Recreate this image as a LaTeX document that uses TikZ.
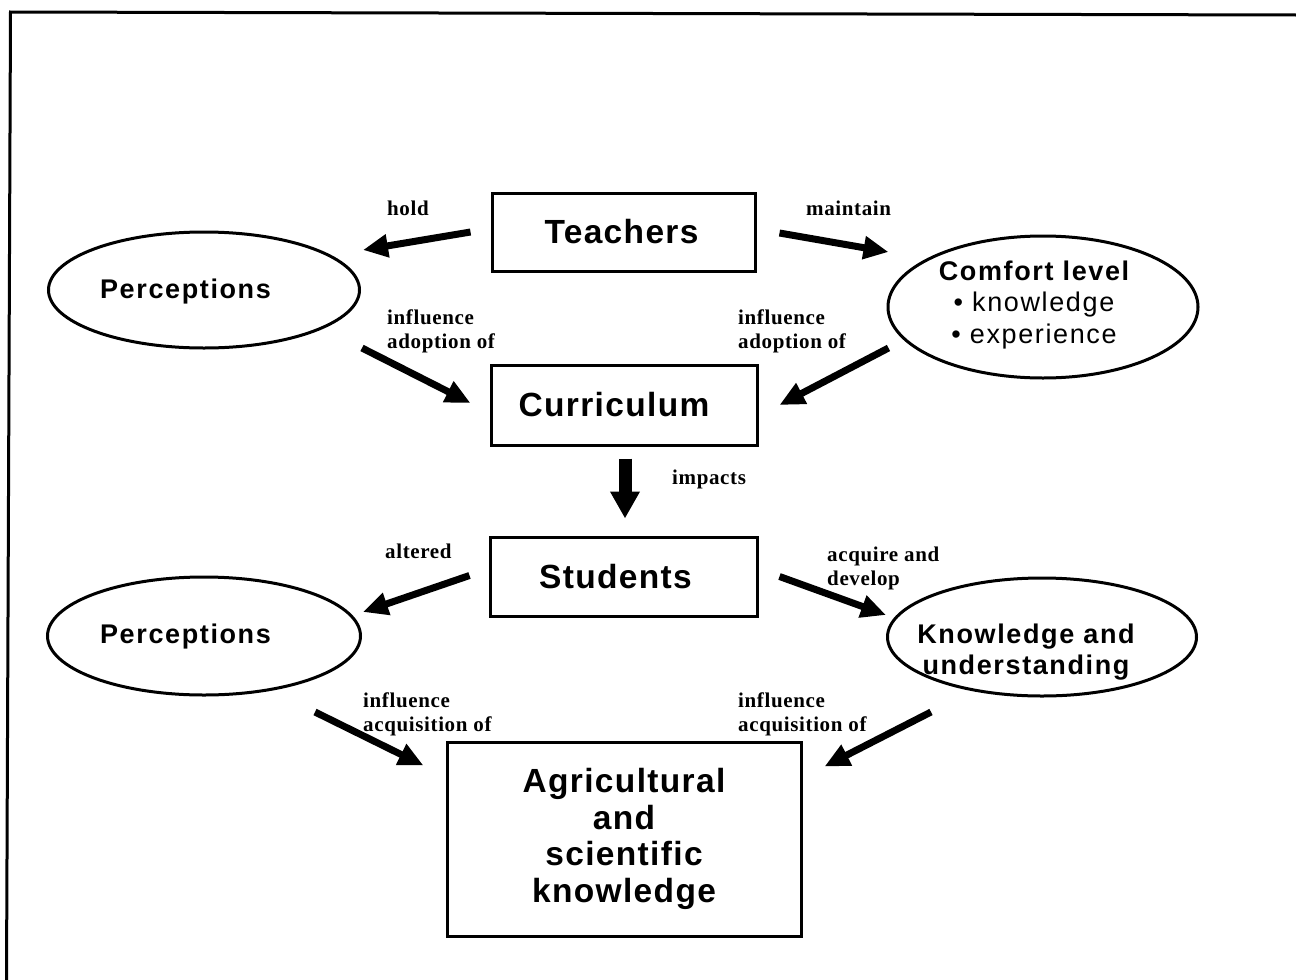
\documentclass[tikz,border=0pt]{standalone}
\usepackage{fontspec}
\usetikzlibrary{arrows.meta,shapes.geometric}
\newfontfamily\boxfont[LetterSpace=4]{Liberation Sans}
\newfontfamily\ellfont[LetterSpace=6]{Liberation Sans}
\newfontfamily\lblfont[LetterSpace=3]{Liberation Serif}
\tikzset{
  box/.style={draw, line width=3pt, inner sep=0pt, align=center,
    font=\boxfont\bfseries\fontsize{33.5}{36.5}\selectfont},
  ell/.style={draw, ellipse, line width=3pt, inner sep=0pt},
  elltext/.style={inner sep=0pt, anchor=base,
    font=\ellfont\fontsize{27}{31.5}\selectfont},
  lbl/.style={inner sep=0pt, anchor=base west,
    font=\lblfont\bfseries\fontsize{21}{24.5}\selectfont},
  big/.style={line width=7pt, -{Triangle[length=25pt,width=22pt]}},
  huge/.style={line width=13pt, -{Triangle[length=27pt,width=28pt]}},
  frame/.style={line width=3pt, line cap=rect}
}
\begin{document}
\begin{tikzpicture}[x=1pt,y=-1pt]
\useasboundingbox (0,0) rectangle (1296,980);
\draw[frame] (6.5,980) -- (10.5,12) -- (1296,15);

% boxes
\node[box, minimum width=263pt, minimum height=78pt] (teachers) at (623.5,232) {Teachers\hspace{4pt}};
\node[box, minimum width=266pt, minimum height=80pt] (curriculum) at (624,405) {Curriculum\hspace{20pt}};
\node[box, minimum width=267pt, minimum height=79pt] (students) at (623.5,576.5) {Students\hspace{16pt}};
\node[box, minimum width=354pt, minimum height=194pt] (agri) at (624,839) {Agricultural\\and\\scientific\\knowledge};

% ellipses
\node[ell, minimum width=311pt, minimum height=116pt] (perc1) at (204,290) {};
\node[ell, minimum width=310pt, minimum height=142pt] (comfort) at (1043,307) {};
\node[ell, minimum width=313pt, minimum height=118pt] (perc2) at (204,636) {};
\node[ell, minimum width=309pt, minimum height=118pt] (know) at (1042,637) {};

\node[elltext] (perc1t) at (185.5,298) {\bfseries Perceptions};
\node[elltext] (comfortt) at (1034,280) {\begin{tabular}[t]{@{}c@{}}\bfseries Comfort level\\ \textbullet{} knowledge\\ \textbullet{} experience\end{tabular}};
\node[elltext] (perc2t) at (185.5,643) {\bfseries Perceptions};
\node[elltext] (knowt) at (1026,643) {\bfseries\begin{tabular}[t]{@{}c@{}}Knowledge and\\understanding\end{tabular}};

% labels
\node[lbl] (l1) at (387,215) {hold};
\node[lbl] (l2) at (806,215) {maintain};
\node[lbl] (l3) at (387,324) {\begin{tabular}[t]{@{}l@{}}influence\\adoption of\end{tabular}};
\node[lbl] (l4) at (738,324) {\begin{tabular}[t]{@{}l@{}}influence\\adoption of\end{tabular}};
\node[lbl] (l5) at (672,484) {impacts};
\node[lbl] (l6) at (385,558) {altered};
\node[lbl] (l7) at (827,561) {\begin{tabular}[t]{@{}l@{}}acquire and\\develop\end{tabular}};
\node[lbl] (l8) at (363,707) {\begin{tabular}[t]{@{}l@{}}influence\\acquisition of\end{tabular}};
\node[lbl] (l9) at (738,707) {\begin{tabular}[t]{@{}l@{}}influence\\acquisition of\end{tabular}};

% arrows
\draw[big] ([shift={(-20,0)}]teachers.west) -- ([shift={(2,-40)}]perc1.east);
\draw[big] ([shift={(23,1)}]teachers.east) -- ([shift={(2,-55)}]comfort.west);
\draw[big] ([shift={(1,58)}]perc1.east) -- ([shift={(-19,-2)}]curriculum.west);
\draw[big] ([shift={(2,41)}]comfort.west) -- ([shift={(21,0)}]curriculum.east);
\draw[huge] ([shift={(1,12)}]curriculum.south) -- ([shift={(1.5,-17)}]students.north);
\draw[big] ([shift={(-19,-1)}]students.west) -- ([shift={(1,-24)}]perc2.east);
\draw[big] ([shift={(21,0)}]students.east) -- ([shift={(0,-22)}]know.west);
\draw[big] ([shift={(-47,76)}]perc2.east) -- ([shift={(-22,25)}]agri.north west);
\draw[big] ([shift={(45,75)}]know.west) -- ([shift={(22,26)}]agri.north east);
\end{tikzpicture}
\end{document}
